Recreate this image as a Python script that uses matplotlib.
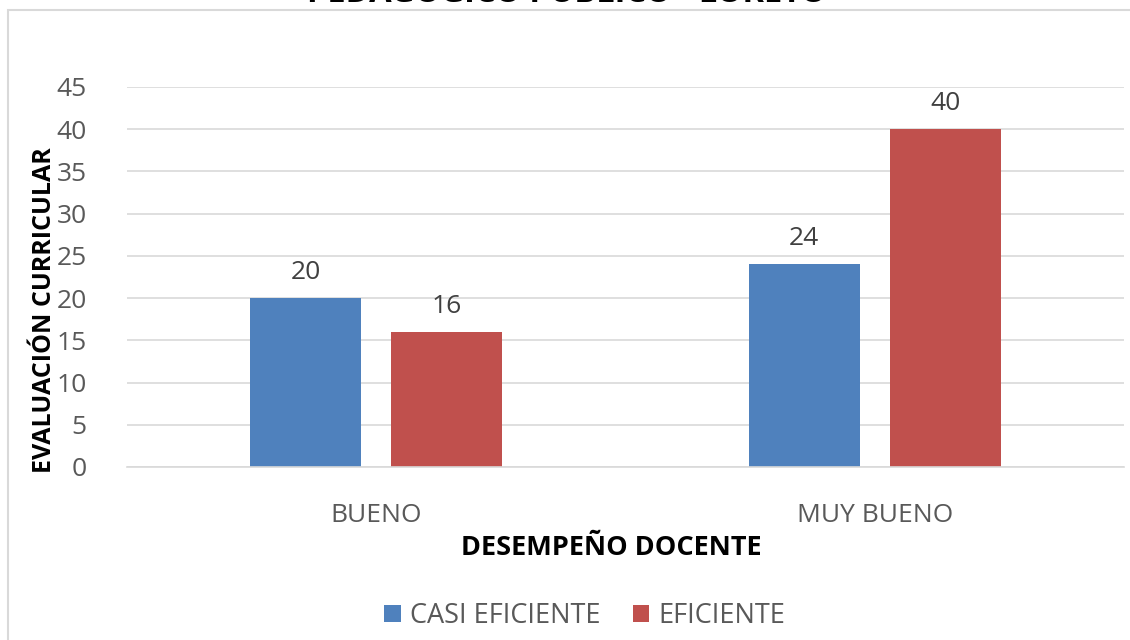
import matplotlib
matplotlib.use("Agg")
import matplotlib.pyplot as plt
from matplotlib.patches import Rectangle
import numpy as np

categories = ["BUENO", "MUY BUENO"]
series_names = ["CASI EFICIENTE", "EFICIENTE"]
casi_eficiente = [20, 24]
eficiente = [16, 40]
yticks = [0, 5, 10, 15, 20, 25, 30, 35, 40, 45]
title = "PEDAGÓGICO PÚBLICO - LORETO"
xlabel = "DESEMPEÑO DOCENTE"
ylabel = "EVALUACIÓN CURRICULAR"

colors = ["#4F81BD", "#C0504D"]
txt = "#595959"
plt.rcParams['font.family'] = ['Open Sans', 'DejaVu Sans']

W, H = 1130, 640
fig = plt.figure(figsize=(W/100, H/100), dpi=100)
fig.patches.append(Rectangle((8/W, -0.05), 1.1, 1 - 10/H + 0.05, transform=fig.transFigure,
                             fill=False, edgecolor="#D9D9D9", linewidth=1.5))
ax = fig.add_axes([127/W, 1-467/H, (1124-127)/W, (467-87)/H])

x = np.arange(len(categories))
bw = 0.223
gap = 0.06
off = (bw + gap) / 2
b1 = ax.bar(x - off, casi_eficiente, bw, color=colors[0], label=series_names[0])
b2 = ax.bar(x + off, eficiente, bw, color=colors[1], label=series_names[1])
for bars in (b1, b2):
    for r in bars:
        ax.text(r.get_x() + r.get_width()/2, r.get_height() + 1.55, f"{int(r.get_height())}",
                ha="center", va="bottom", fontsize=19, color="#404040")

ax.set_xlim(-0.5, 1.5)
ax.set_ylim(0, 45)
ax.set_yticks(yticks)
ax.set_xticks(x)
ax.set_xticklabels(categories)
ax.yaxis.grid(True, color="#D9D9D9", linewidth=1.2)
ax.set_axisbelow(True)
for s in ["top", "right", "left"]:
    ax.spines[s].set_visible(False)
ax.spines["bottom"].set_color("#D9D9D9")
ax.spines["bottom"].set_linewidth(1.2)
ax.tick_params(axis="both", length=0, labelsize=19, colors=txt)
ax.tick_params(axis="y", pad=29)
ax.tick_params(axis="x", pad=26)

fig.text(611/W, 1-548/H, xlabel, ha="center", va="center", fontsize=19.5, fontweight="bold", color="black")
fig.text(45/W, 1-310/H, ylabel, ha="center", va="center", rotation=90, fontsize=18, fontweight="bold", color="black")
fig.text(567/W, 1 + 6/H, title, ha="center", va="center", fontsize=23.5, fontweight="bold", color="black")

leg = fig.legend(handles=[b1, b2], labels=series_names, loc="center", bbox_to_anchor=(585/W, 1-616/H),
                 ncol=2, frameon=False, fontsize=19.5, handlelength=0.6, handleheight=0.6,
                 columnspacing=1.2, handletextpad=0.35)
for t in leg.get_texts():
    t.set_color(txt)

fig.savefig("out.png", dpi=100)
